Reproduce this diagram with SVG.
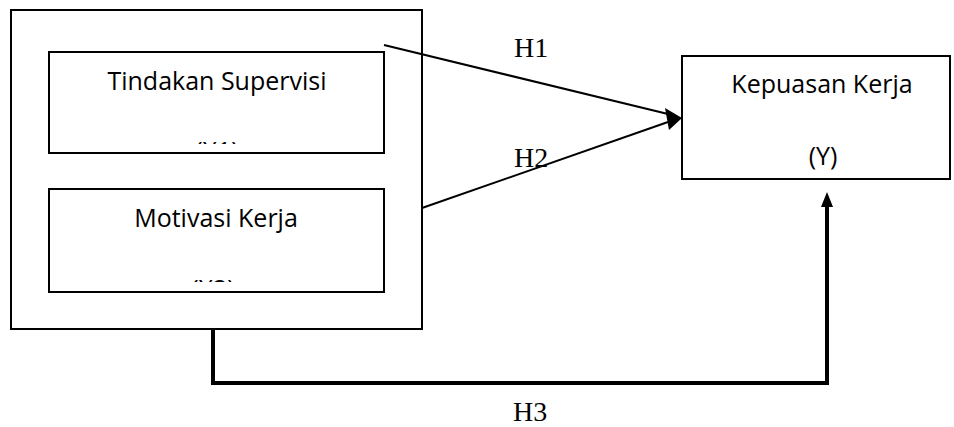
<svg xmlns="http://www.w3.org/2000/svg" width="954" height="427" viewBox="0 0 954 427">
<style>
.box{fill:#fff;stroke:#000;stroke-width:2}
.lbl{font-family:"Open Sans","Noto Sans",sans-serif;font-size:25px;fill:#000;text-anchor:middle}
.h{font-family:"Liberation Serif","Times New Roman",serif;font-size:28px;fill:#000}
.ln{stroke:#000;stroke-width:2;fill:none}
</style>
<defs>
<clipPath id="c1"><rect x="49" y="52" width="335" height="92"/></clipPath>
<clipPath id="c2"><rect x="49" y="189" width="335" height="93"/></clipPath>
</defs>
<rect width="954" height="427" fill="#fff"/>
<g id="outer"><rect class="box" x="11" y="10" width="411" height="319"/></g>
<g id="x1">
<rect class="box" x="49" y="52" width="335" height="101"/>
<text class="lbl" x="217" y="90">Tindakan Supervisi</text>
<text class="lbl" x="217" y="160" clip-path="url(#c1)">(X1)</text>
</g>
<g id="x2">
<rect class="box" x="49" y="189" width="335" height="103"/>
<text class="lbl" x="216" y="227">Motivasi Kerja</text>
<text class="lbl" x="213" y="298" clip-path="url(#c2)">(X2)</text>
</g>
<g id="y">
<rect class="box" x="682" y="56" width="268" height="123"/>
<text class="lbl" x="822" y="93">Kepuasan Kerja</text>
<text class="lbl" x="823" y="165">(Y)</text>
</g>
<g id="connectors">
<line class="ln" x1="384" y1="45" x2="668" y2="114"/>
<line class="ln" x1="422" y1="208" x2="668" y2="122"/>
<polygon points="682,118 665,108 669,130" fill="#000"/>
<polyline points="213,329 213,383 827,383 827,204" fill="none" stroke="#000" stroke-width="4"/>
<polygon points="827,192 821,207 833,207" fill="#000"/>
<text class="h" x="514" y="57">H1</text>
<text class="h" x="514" y="167">H2</text>
<text class="h" x="513" y="421">H3</text>
</g>
</svg>
